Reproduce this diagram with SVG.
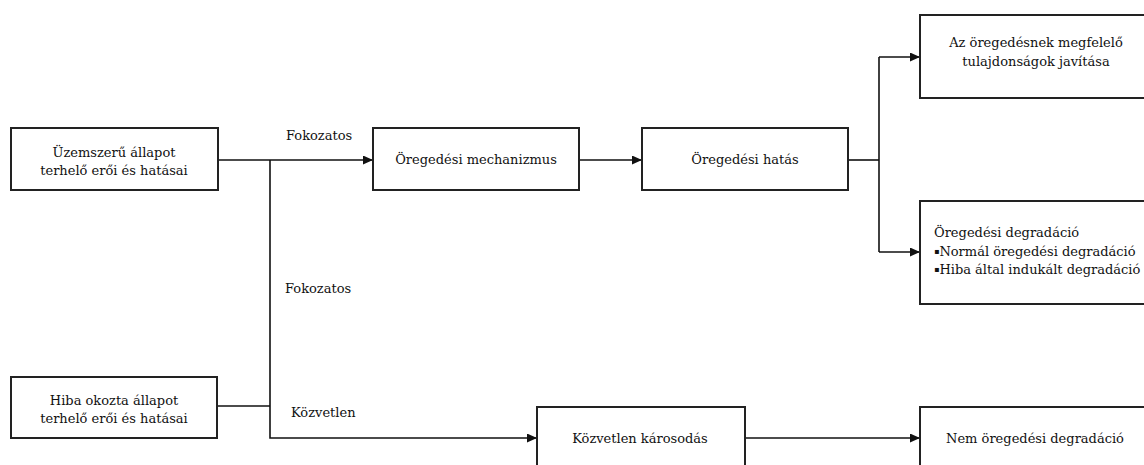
<svg xmlns="http://www.w3.org/2000/svg" width="1144" height="465" viewBox="0 0 1144 465">
<style>
.box{fill:#fff;stroke:#222;stroke-width:2}
.t{font-family:'DejaVu Serif','Liberation Serif',serif;font-size:13px;fill:#111}
.c{text-anchor:middle}
.ln{fill:none;stroke:#111;stroke-width:1.6}
</style>
<defs>
<marker id="ah" markerWidth="10" markerHeight="9" refX="9" refY="4.5" orient="auto" markerUnits="userSpaceOnUse">
<path d="M0,0 L10,4.5 L0,9 Z" fill="#111"/>
</marker>
</defs>
<rect width="1144" height="465" fill="#fff"/>
<g id="connectors">
<path class="ln" d="M218,160 H372" marker-end="url(#ah)"/>
<path class="ln" d="M270,160 V438 H536" marker-end="url(#ah)"/>
<path class="ln" d="M217,406 H270"/>
<path class="ln" d="M579,160 H641" marker-end="url(#ah)"/>
<path class="ln" d="M848,160 H879"/>
<path class="ln" d="M879,57 V252"/>
<path class="ln" d="M879,57 H919" marker-end="url(#ah)"/>
<path class="ln" d="M879,252 H919" marker-end="url(#ah)"/>
<path class="ln" d="M745,438 H919" marker-end="url(#ah)"/>
<text class="t" x="286" y="140">Fokozatos</text>
<text class="t" x="285" y="293">Fokozatos</text>
<text class="t" x="291" y="417">Közvetlen</text>
</g>
<g id="n1">
<rect class="box" x="11" y="128" width="207" height="62"/>
<text class="t c" x="114" y="157">Üzemszerű állapot</text>
<text class="t c" x="114" y="175">terhelő erői és hatásai</text>
</g>
<g id="n2">
<rect class="box" x="11" y="377" width="206" height="61"/>
<text class="t c" x="114" y="405">Hiba okozta állapot</text>
<text class="t c" x="114" y="423">terhelő erői és hatásai</text>
</g>
<g id="n3">
<rect class="box" x="373" y="128" width="206" height="62"/>
<text class="t c" x="476" y="164">Öregedési mechanizmus</text>
</g>
<g id="n4">
<rect class="box" x="642" y="128" width="206" height="62"/>
<text class="t c" x="745" y="164">Öregedési hatás</text>
</g>
<g id="n5">
<rect class="box" x="920" y="15" width="240" height="83"/>
<text class="t c" x="1036" y="47">Az öregedésnek megfelelő</text>
<text class="t c" x="1036" y="66">tulajdonságok javítása</text>
</g>
<g id="n6">
<rect class="box" x="920" y="201" width="240" height="103"/>
<text class="t" x="934" y="237">Öregedési degradáció</text>
<text class="t" x="934" y="256"><tspan font-size="8" dy="-2">▪</tspan><tspan dy="2">Normál öregedési degradáció</tspan></text>
<text class="t" x="934" y="274"><tspan font-size="8" dy="-2">▪</tspan><tspan dy="2">Hiba által indukált degradáció</tspan></text>
</g>
<g id="n7">
<rect class="box" x="537" y="407" width="208" height="80"/>
<text class="t c" x="640" y="443">Közvetlen károsodás</text>
</g>
<g id="n8">
<rect class="box" x="920" y="407" width="240" height="80"/>
<text class="t c" x="1035" y="443">Nem öregedési degradáció</text>
</g>
</svg>
